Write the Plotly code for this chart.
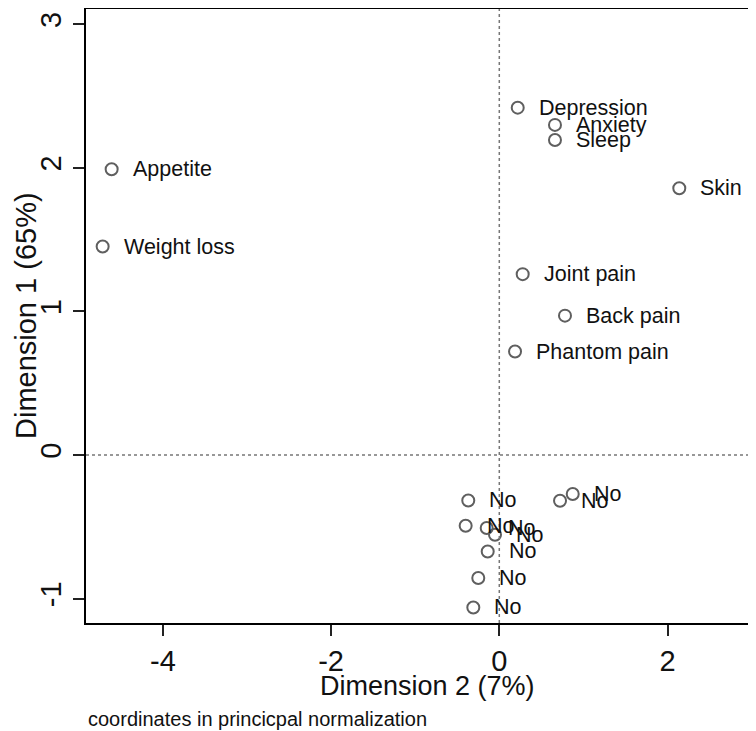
import plotly.graph_objects as go

# Category labels and coordinates (Dimension 2 on x, Dimension 1 on y)
labels = ["Appetite", "Weight loss", "Depression", "Anxiety", "Sleep", "Skin",
          "Joint pain", "Back pain", "Phantom pain",
          "No", "No", "No", "No", "No", "No", "No", "No", "No"]
dim2 = [-4.609, -4.716, 0.219, 0.662, 0.662, 2.140,
        0.278, 0.781, 0.187,
        -0.369, 0.722, 0.873, -0.400, -0.150, -0.051, -0.138, -0.250, -0.309]
dim1 = [1.990, 1.452, 2.419, 2.299, 2.194, 1.858,
        1.260, 0.971, 0.721,
        -0.316, -0.318, -0.271, -0.492, -0.508, -0.555, -0.671, -0.856, -1.061]

x_ticks = [-4, -2, 0, 2]
y_ticks = [-1, 0, 1, 2, 3]
x_title = "Dimension 2 (7%)"
y_title = "Dimension 1 (65%)"
note = "coordinates in princicpal normalization"

FONT = "Liberation Sans, Arial, sans-serif"

fig = go.Figure()
fig.add_trace(go.Scatter(
    x=dim2, y=dim1, mode="markers",
    marker=dict(symbol="circle-open", size=12, color="#5f5f5f",
                line=dict(width=2, color="#5f5f5f")),
    hoverinfo="skip", showlegend=False,
))

for lab, xv, yv in zip(labels, dim2, dim1):
    fig.add_annotation(x=xv, y=yv, text=lab, showarrow=False,
                       xanchor="left", yanchor="middle", xshift=19,
                       font=dict(family=FONT, size=21.5, color="#111"))

# dotted reference lines at zero
fig.add_hline(y=0, line=dict(color="#777", width=1.5, dash="dot"))
fig.add_vline(x=0, line=dict(color="#777", width=1.5, dash="dot"))

# axis titles and note
fig.add_annotation(xref="paper", yref="paper", x=0.509, y=0, yshift=-63,
                   xanchor="center", yanchor="middle", showarrow=False,
                   text=x_title, font=dict(family=FONT, size=27, color="#111"))
fig.add_annotation(xref="paper", yref="paper", x=0, y=0.5, xshift=-60,
                   xanchor="center", yanchor="middle", showarrow=False,
                   textangle=-90,
                   text=y_title, font=dict(family=FONT, size=29, color="#111"))
fig.add_annotation(xref="paper", yref="paper", x=0, y=0, yshift=-83,
                   xanchor="left", yanchor="top", showarrow=False,
                   text=note, font=dict(family=FONT, size=20, color="#111"))

# page body has an 8px margin, so the figure is sized to fill the rest
fig.update_layout(
    width=748, height=723,
    margin=dict(l=78, r=0, t=1, b=108),
    paper_bgcolor="white", plot_bgcolor="white",
    font=dict(family=FONT, color="#111"),
    xaxis=dict(range=[-4.914, 3.052], tickvals=x_ticks,
               ticktext=[str(v) for v in x_ticks], automargin=False,
               showgrid=False, zeroline=False,
               showline=True, linecolor="black", linewidth=2, mirror=True,
               ticks="outside", ticklen=11, tickwidth=1.5, tickcolor="#222",
               tickfont=dict(size=29)),
    yaxis=dict(range=[-1.169, 3.106], tickvals=y_ticks,
               ticktext=[str(v) for v in y_ticks], automargin=False,
               showgrid=False, zeroline=False,
               showline=True, linecolor="black", linewidth=2,
               ticks="outside", ticklen=11, tickwidth=1.5, tickcolor="#222",
               tickangle=-90, tickfont=dict(size=29)),
)

fig.write_html("out.html")
